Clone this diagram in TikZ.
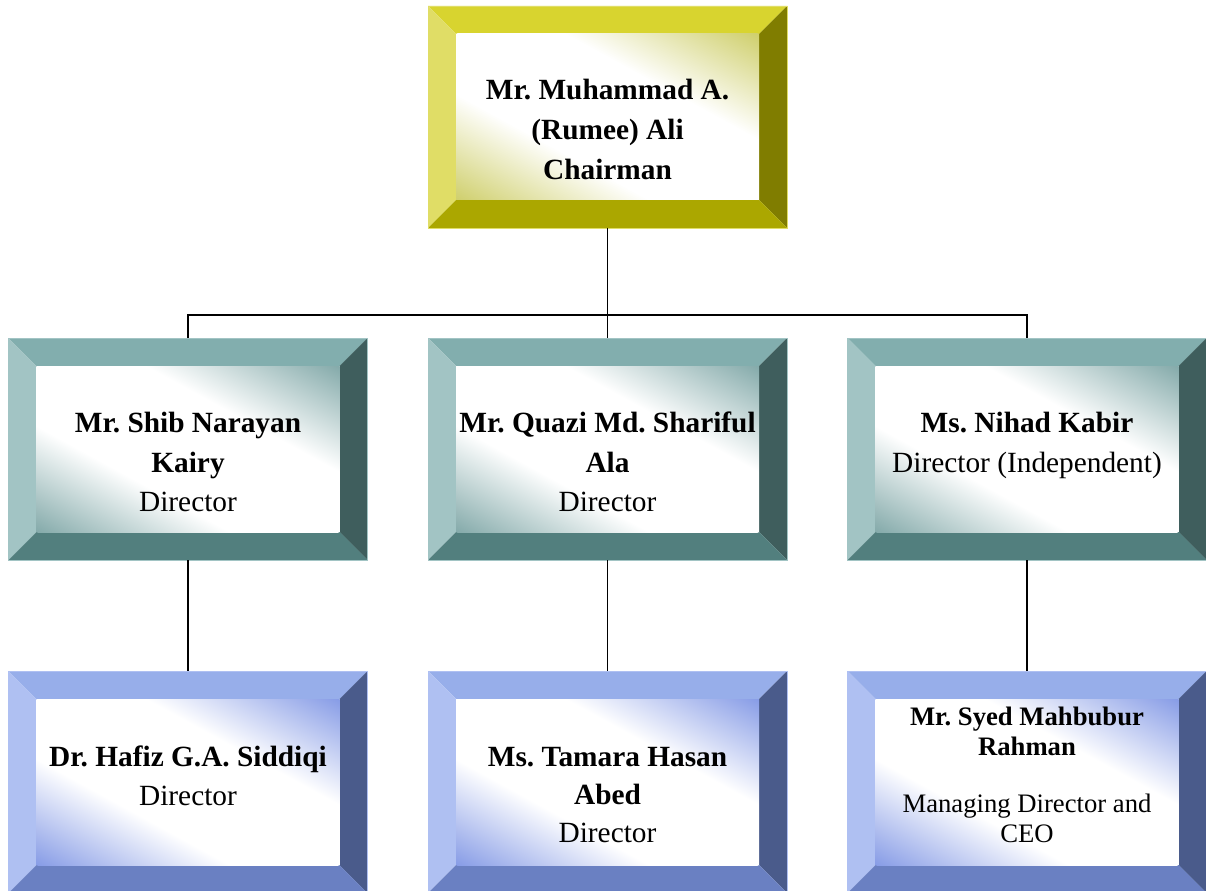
\documentclass[tikz,border=0pt]{standalone}
\usepackage{fontspec}
\setmainfont{Liberation Serif}
\frenchspacing
\definecolor{yT}{HTML}{D8D42F}
\definecolor{yL}{HTML}{E0DD66}
\definecolor{yR}{HTML}{807D00}
\definecolor{yB}{HTML}{ABA700}
\definecolor{yI}{HTML}{CFCF6C}
\definecolor{tT}{HTML}{82AEAE}
\definecolor{tL}{HTML}{A2C4C4}
\definecolor{tR}{HTML}{3F5E5D}
\definecolor{tB}{HTML}{527F7E}
\definecolor{tI}{HTML}{84AAAA}
\definecolor{bT}{HTML}{97AEEA}
\definecolor{bL}{HTML}{AFC0F2}
\definecolor{bR}{HTML}{4A5B8B}
\definecolor{bB}{HTML}{6A80C2}
\definecolor{bI}{HTML}{879CE6}
\pgfdeclareverticalshading{yshade}{100bp}{color(0bp)=(yI); color(25bp)=(yI); color(41bp)=(white); color(59bp)=(white); color(75bp)=(yI); color(100bp)=(yI)}
\pgfdeclareverticalshading{tshade}{100bp}{color(0bp)=(tI); color(25bp)=(tI); color(41bp)=(white); color(59bp)=(white); color(75bp)=(tI); color(100bp)=(tI)}
\pgfdeclareverticalshading{bshade}{100bp}{color(0bp)=(bI); color(25bp)=(bI); color(41bp)=(white); color(59bp)=(white); color(75bp)=(bI); color(100bp)=(bI)}
\tikzset{
  boxnode/.style={minimum width=269.25pt, minimum height=166.5pt, inner sep=0pt, outer sep=0pt},
  conn/.style={draw=black, line width=1.4pt},
  nm/.style={font=\fontsize{22}{26}\selectfont\bfseries, anchor=base, inner sep=0pt},
  rl/.style={font=\fontsize{22}{26}\selectfont, anchor=base, inner sep=0pt},
  nms/.style={font=\fontsize{20}{24}\selectfont\bfseries, anchor=base, inner sep=0pt},
  rls/.style={font=\fontsize{20}{24}\selectfont, anchor=base, inner sep=0pt}
}
\newcommand{\bevbox}[4]{%
  \node[boxnode] (#1) at (#2,#3) {};
  \fill[#4T] (#1.north west) -- (#1.north east) -- ([shift={(-28,28)}]#1.north east) -- ([shift={(28,28)}]#1.north west) -- cycle;
  \fill[#4L] (#1.north west) -- ([shift={(28,28)}]#1.north west) -- ([shift={(28,-28)}]#1.south west) -- (#1.south west) -- cycle;
  \fill[#4R] (#1.north east) -- ([shift={(-28,28)}]#1.north east) -- ([shift={(-28,-28)}]#1.south east) -- (#1.south east) -- cycle;
  \fill[#4B] (#1.south west) -- ([shift={(28,-28)}]#1.south west) -- ([shift={(-28,-28)}]#1.south east) -- (#1.south east) -- cycle;
  \begin{scope}[transform canvas={shift={(#2,#3)}, xscale=151.5, yscale=83}]
    \clip (-1,-1) rectangle (1,1);
    \begin{scope}[transform canvas={rotate=-45}]
      \shade[shading=#4shade] (-1.4143,-1.4143) rectangle (1.4143,1.4143);
    \end{scope}
  \end{scope}
  \draw[#4L, line width=0.5pt] (#1.north west) rectangle (#1.south east);
}
\begin{document}
\begin{tikzpicture}[x=0.75pt,y=-0.75pt]
\useasboundingbox (0,0) rectangle (1206,891);
\bevbox{chair}{607.5}{117}{y}
\bevbox{d1}{188}{449}{t}
\bevbox{d2}{607.5}{449}{t}
\bevbox{d3}{1027}{449}{t}
\bevbox{m1}{188}{782}{b}
\bevbox{m2}{607.5}{782}{b}
\bevbox{m3}{1027}{782}{b}
% connectors
\coordinate (bus) at (607.5,315);
\draw[conn] (chair.south) -- (bus);
\draw[conn] (d1.north) |- (bus) -| (d3.north);
\draw[conn] (bus) -- (d2.north);
\draw[conn] (d1.south) -- (m1.north);
\draw[conn] (d2.south) -- (m2.north);
\draw[conn] (d3.south) -- (m3.north);
% texts
\node[nm] (c1) at (607.5,100) {Mr. Muhammad A.};
\node[nm] (c2) at (607.5,140) {(Rumee) Ali};
\node[nm] (c3) at (607.5,180) {Chairman};
\node[nm] (a1) at (188,432) {Mr. Shib Narayan};
\node[nm] (a2) at (188,472) {Kairy};
\node[rl] (a3) at (188,511) {Director};
\node[nm] (b1) at (607.5,432) {Mr. Quazi Md. Shariful};
\node[nm] (b2) at (607.5,472) {Ala};
\node[rl] (b3) at (607.5,511) {Director};
\node[nm] (e1) at (1027,432) {Ms. Nihad Kabir};
\node[rl] (e2) at (1027,472) {Director (Independent)};
\node[nm] (f1) at (188,766) {Dr. Hafiz G.A. Siddiqi};
\node[rl] (f2) at (188,805) {Director};
\node[nm] (g1) at (607.5,766) {Ms. Tamara Hasan};
\node[nm] (g2) at (607.5,804) {Abed};
\node[rl] (g3) at (607.5,842) {Director};
\node[nms] (h1) at (1027,725) {Mr. Syed Mahbubur};
\node[nms] (h2) at (1027,755) {Rahman};
\node[rls] (h3) at (1027,812) {Managing Director and};
\node[rls] (h4) at (1027,842) {CEO};
\end{tikzpicture}
\end{document}
